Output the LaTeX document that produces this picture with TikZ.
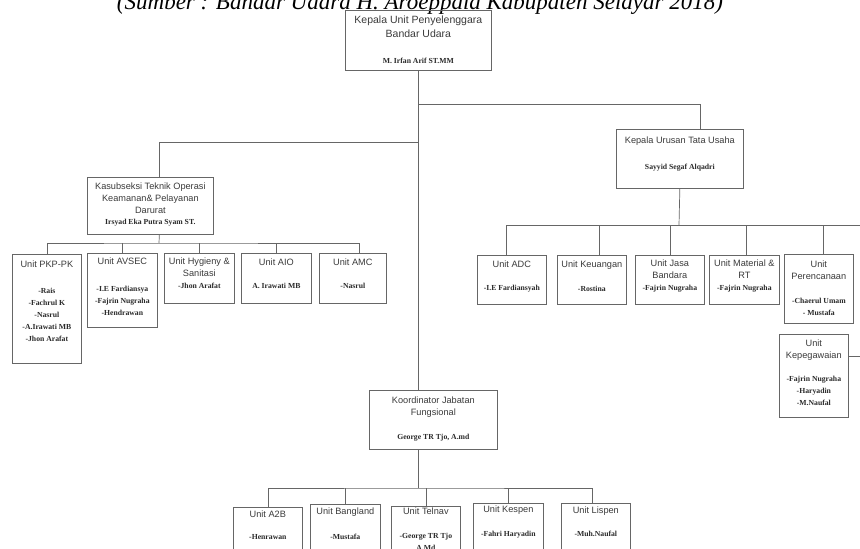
\documentclass[tikz,border=0pt]{standalone}
\usepackage{fontspec}
\setmainfont{Liberation Serif}
\newfontfamily\headfont{Liberation Sans}
\newfontfamily\namefont{Liberation Serif}

\definecolor{linegray}{HTML}{666666}
\definecolor{textgray}{HTML}{3A3A3A}
\definecolor{namegray}{HTML}{2A2A2A}

\newcommand{\hd}{\headfont\fontsize{9.2}{12}\selectfont\color{textgray}}
\newcommand{\hdbig}{\headfont\fontsize{10.5}{14}\selectfont\color{textgray}}
\newcommand{\nm}{\namefont\bfseries\fontsize{7.7}{12}\selectfont\color{namegray}}
% width, height, first baseline, content
\newcommand{\cell}[4]{\parbox[t][#2pt][t]{#1pt}{\centering\rule{0pt}{#3pt}#4}}

\begin{document}
\begin{tikzpicture}[x=1pt,y=-1pt,
  box/.style={draw=linegray, line width=0.7pt, inner sep=0pt, anchor=north west},
  link/.style={draw=linegray, line width=0.7pt},
  srcnote/.style={anchor=base, font=\itshape\fontsize{23}{23}\selectfont}]

\useasboundingbox (0,0) rectangle (860,549);
\clip (0,0) rectangle (860,549);

\node[srcnote] (src) at (420,9) {(Sumber : Bandar Udara H. Aroeppala Kabupaten Selayar 2018)};

% head of unit
\node[box] (kepala) at (345,10) {\cell{146}{60}{13}{{\hdbig Kepala Unit Penyelenggara\\Bandar Udara\par}\vspace{14pt}{\nm M. Irfan Arif ST.MM\par}}};

\node[box] (tu) at (616,129) {\cell{127}{59}{14}{{\hd Kepala Urusan Tata Usaha\par}\vspace{14pt}{\nm Sayyid Segaf Alqadri\par}}};

\node[box] (kasi) at (87,177) {\cell{126}{57}{12}{{\hd Kasubseksi Teknik Operasi\\Keamanan\& Pelayanan\\Darurat\par}\vspace{-1pt}{\nm Irsyad Eka Putra Syam ST.\par}}};

\node[box] (koord) at (369,390) {\cell{128}{59}{13.5}{{\hd Koordinator Jabatan\\Fungsional\par}\vspace{12pt}{\nm George TR Tjo, A.md\par}}};

% units under kasubseksi
\node[box] (pkp) at (12,254) {\cell{69}{109}{13}{{\hd Unit PKP-PK\par}\vspace{14pt}{\nm -Rais\\-Fachrul K\\-Nasrul\\-A.Irawati MB\\-Jhon Arafat\par}}};
\node[box] (avsec) at (87,253) {\cell{70}{74}{11.5}{{\hd Unit AVSEC\par}\vspace{14.5pt}{\nm -I.E Fardiansya\\-Fajrin Nugraha\\-Hendrawan\par}}};
\node[box] (hyg) at (164,253) {\cell{70}{50}{11.5}{{\hd Unit Hygieny \&\\Sanitasi\par}\vspace{-0.5pt}{\nm -Jhon Arafat\par}}};
\node[box] (aio) at (241,253) {\cell{70}{50}{12.5}{{\hd Unit AIO\par}\vspace{11pt}{\nm A. Irawati MB\par}}};
\node[box] (amc) at (319,253) {\cell{67}{50}{12.5}{{\hd Unit AMC\par}\vspace{11pt}{\nm -Nasrul\par}}};

% units under tata usaha
\node[box] (adc) at (477,255) {\cell{69}{49}{12}{{\hd Unit ADC\par}\vspace{11.5pt}{\nm -I.E Fardiansyah\par}}};
\node[box] (keu) at (557,255) {\cell{69}{49}{12.5}{{\hd Unit Keuangan\par}\vspace{12pt}{\nm -Rostina\par}}};
\node[box] (jasa) at (635,255) {\cell{69}{49}{11.5}{{\hd Unit Jasa\\Bandara\par}\vspace{-0.5pt}{\nm -Fajrin Nugraha\par}}};
\node[box] (mat) at (709,255) {\cell{70}{49}{11.5}{{\hd Unit Material \&\\RT\par}\vspace{-0.5pt}{\nm -Fajrin Nugraha\par}}};
\node[box] (renc) at (784,254) {\cell{69}{69}{13.5}{{\hd Unit\\Perencanaan\par}\vspace{12pt}{\nm -Chaerul Umam\\- Mustafa\par}}};
\node[box] (kepeg) at (779,334) {\cell{69}{83}{12.5}{{\hd Unit\\Kepegawaian\par}\vspace{10.5pt}{\nm -Fajrin Nugraha\\-Haryadin\\-M.Naufal\par}}};

% units under koordinator
\node[box] (atb) at (233,507) {\cell{69}{70}{10.5}{{\hd Unit A2B\par}\vspace{10pt}{\nm -Henrawan\par}}};
\node[box] (bang) at (310,504) {\cell{70}{70}{10.5}{{\hd Unit Bangland\par}\vspace{13pt}{\nm -Mustafa\par}}};
\node[box] (tel) at (391,506) {\cell{69}{70}{8.5}{{\hd Unit Telnav\par}\vspace{12pt}{\nm -George TR Tjo\\A.Md\par}}};
\node[box] (kes) at (473,503) {\cell{70}{70}{9.5}{{\hd Unit Kespen\par}\vspace{11.5pt}{\nm -Fahri Haryadin\par}}};
\node[box] (lis) at (561,503) {\cell{69}{70}{9.8}{{\hd Unit Lispen\par}\vspace{11.5pt}{\nm -Muh.Naufal\par}}};

\coordinate (busTU) at (418,104);
\coordinate (busKS) at (418,142);
\coordinate (busL) at (159,243);
\coordinate (busR) at (679,225);
\coordinate (edgeR) at (872,225);
\coordinate (busB) at (418,488);

% trunk
\draw[link] (kepala.south) -- (kepala.south |- koord.north);
\draw[link] (busTU) -| ([xshift=20.5pt]tu.north);
\draw[link] (busKS) -| ([xshift=9pt]kasi.north);

% kasubseksi branch
\draw[link] ([xshift=9pt]kasi.south) -- (busL);
\draw[link] (pkp.north) |- (busL) -| ([xshift=6.5pt]amc.north);
\draw[link] (avsec.north) -- (avsec.north |- busL);
\draw[link] (hyg.north) -- (hyg.north |- busL);
\draw[link] (aio.north) -- (aio.north |- busL);

% tata usaha branch
\draw[link] (tu.south) -- (busR);
\draw[link] ([xshift=-5.5pt]adc.north) |- (edgeR) |- ([yshift=19.5pt]kepeg.east);
\draw[link] ([xshift=7.5pt]keu.north) -- ([xshift=7.5pt]keu.north |- busR);
\draw[link] (jasa.north) -- (jasa.north |- busR);
\draw[link] ([xshift=2pt]mat.north) -- ([xshift=2pt]mat.north |- busR);
\draw[link] ([xshift=4.5pt]renc.north) -- ([xshift=4.5pt]renc.north |- busR);

% koordinator branch
\draw[link] (koord.south -| busB) -- (busB);
\draw[link] (atb.north) |- (busB) -| ([xshift=-4pt]lis.north);
\draw[link] (bang.north) -- (bang.north |- busB);
\draw[link] (tel.north) -- (tel.north |- busB);
\draw[link] (kes.north) -- (kes.north |- busB);

\end{tikzpicture}
\end{document}
